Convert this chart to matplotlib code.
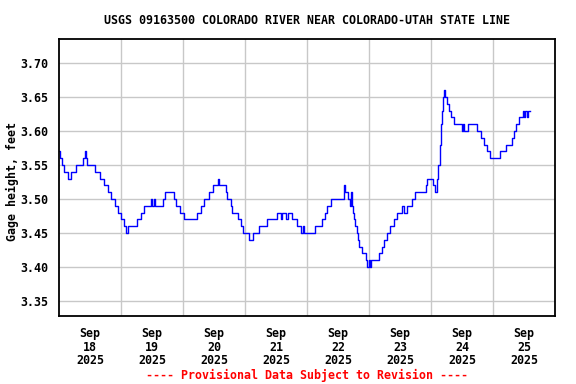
import matplotlib
matplotlib.use("Agg")
import matplotlib.pyplot as plt
import numpy as np

# hours since 2025-09-18 00:00 at which gage height changes (step series)
hours = [0.0, 0.3, 1.2, 1.9, 3.6, 4.7, 6.7, 9.2, 9.9, 10.6, 11.0, 14.0, 15.8, 17.6,
         19.0, 20.1, 21.6, 22.8, 23.9, 25.1, 26.1, 26.9, 30.0, 31.9, 32.8, 35.7,
         36.1, 36.6, 37.0, 40.2, 41.2, 44.7, 45.4, 47.0, 48.3, 53.4, 54.9, 56.1,
         57.9, 59.6, 61.7, 62.1, 64.5, 65.1, 66.4, 67.1, 69.3, 70.3, 71.3, 73.5,
         75.0, 77.4, 80.6, 84.5, 85.8, 86.3, 87.7, 88.5, 90.3, 92.2, 93.5, 94.3,
         94.7, 99.0, 101.9, 102.9, 103.9, 105.1, 110.3, 110.5, 110.9, 111.7, 112.6,
         113.2, 113.6, 114.0, 114.3, 114.6, 115.2, 115.8, 116.3, 117.4, 118.7,
         119.3, 120.0, 120.4, 120.6, 123.8, 125.1, 125.7, 127.1, 128.3, 129.6,
         130.9, 132.9, 133.4, 134.6, 136.7, 138.0, 141.9, 142.6, 144.6, 145.4,
         146.4, 146.9, 147.5, 147.9, 148.3, 148.7, 149.2, 149.6, 150.2, 150.8,
         151.6, 152.8, 156.1, 156.5, 156.8, 158.3, 161.9, 163.2, 164.4, 165.7,
         166.7, 170.9, 173.1, 175.5, 176.2, 177.0, 178.0, 179.6, 180.0, 180.4,
         181.0, 181.4, 182.2]
gage = [3.57, 3.56, 3.55, 3.54, 3.53, 3.54, 3.55, 3.56, 3.57, 3.56, 3.55, 3.54, 3.53, 3.52,
        3.51, 3.50, 3.49, 3.48, 3.47, 3.46, 3.45, 3.46, 3.47, 3.48, 3.49, 3.50,
        3.49, 3.50, 3.49, 3.50, 3.51, 3.50, 3.49, 3.48, 3.47, 3.48, 3.49, 3.50,
        3.51, 3.52, 3.53, 3.52, 3.51, 3.50, 3.49, 3.48, 3.47, 3.46, 3.45, 3.44,
        3.45, 3.46, 3.47, 3.48, 3.47, 3.48, 3.47, 3.48, 3.47, 3.46, 3.45, 3.46,
        3.45, 3.46, 3.47, 3.48, 3.49, 3.50, 3.51, 3.52, 3.51, 3.50, 3.49,
        3.51, 3.49, 3.48, 3.47, 3.46, 3.45, 3.44, 3.43, 3.42, 3.41,
        3.40, 3.41, 3.40, 3.41, 3.42, 3.43, 3.44, 3.45, 3.46, 3.47,
        3.48, 3.49, 3.48, 3.49, 3.50, 3.51, 3.52, 3.53, 3.52, 3.51,
        3.53, 3.55, 3.58, 3.61, 3.63, 3.65, 3.66, 3.65, 3.64, 3.63,
        3.62, 3.61, 3.60, 3.61, 3.60, 3.61, 3.60, 3.59, 3.58, 3.57,
        3.56, 3.57, 3.58, 3.59, 3.60, 3.61, 3.62, 3.63, 3.62, 3.63,
        3.62, 3.63, 3.63]

day_labels = ["Sep\n18\n2025", "Sep\n19\n2025", "Sep\n20\n2025", "Sep\n21\n2025",
              "Sep\n22\n2025", "Sep\n23\n2025", "Sep\n24\n2025", "Sep\n25\n2025"]
y_ticks = [3.35, 3.40, 3.45, 3.50, 3.55, 3.60, 3.65, 3.70]

title = "USGS 09163500 COLORADO RIVER NEAR COLORADO-UTAH STATE LINE"
ylabel = "Gage height, feet"
note = "---- Provisional Data Subject to Revision ----"

W, H = 576, 384
FS = 8.4
MONO = "DejaVu Sans Mono"
fig = plt.figure(figsize=(W / 100, H / 100), dpi=100)
ax = fig.add_axes([59 / W, 1 - 316 / H, (555 - 59) / W, (316 - 39) / H])

ax.step(hours, gage, where="post", color="#0000ff", linewidth=1.0)

ax.set_xlim(0, 192)
ax.set_ylim(3.328, 3.7353)

ax.set_xticks([12 + 24 * i for i in range(len(day_labels))])
ax.set_xticklabels(day_labels, fontfamily=MONO, fontweight="bold",
                   fontsize=FS, linespacing=1.05)
ax.set_xticks([24 * i for i in range(1, 8)], minor=True)
ax.set_yticks(y_ticks)
ax.set_yticklabels([f"{v:.2f}" for v in y_ticks], fontfamily=MONO,
                   fontweight="bold", fontsize=FS)
ax.tick_params(axis="both", which="both", length=0)
ax.tick_params(axis="x", pad=8)
ax.tick_params(axis="y", pad=8)

ax.grid(True, which="minor", axis="x", color="#c8c8c8", linewidth=1.0)
ax.grid(True, which="major", axis="y", color="#c8c8c8", linewidth=1.0)
ax.set_axisbelow(True)
for s in ax.spines.values():
    s.set_linewidth(1.3)
    s.set_color("black")

cx = 0.5 * (59 + 555) / W
fig.text(cx, 1 - 20 / H, title, ha="center", va="center",
         fontfamily=MONO, fontweight="bold", fontsize=FS)
fig.text(12 / W, 1 - 182 / H, ylabel, ha="center", va="center", rotation=90,
         fontfamily=MONO, fontweight="bold", fontsize=FS)
fig.text(cx, 1 - 375 / H, note, ha="center", va="center",
         color="#ff0000", fontfamily=MONO, fontweight="bold", fontsize=FS)

fig.savefig("out.png", dpi=100)
